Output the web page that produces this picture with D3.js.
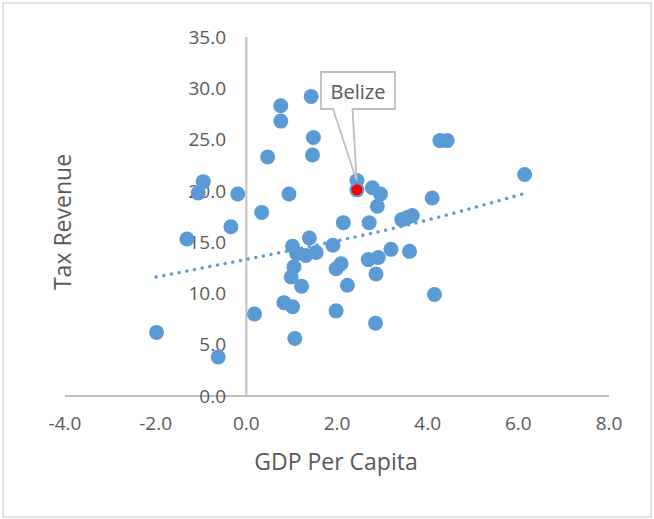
<!DOCTYPE html>
<html>
<head>
<meta charset="utf-8">
<script src="https://cdn.jsdelivr.net/npm/d3@7"></script>
<style>
body { margin: 0; background: #fff; }
text { font-family: "Open Sans", sans-serif; fill: #595959; }
</style>
</head>
<body>
<svg id="chart"></svg>
<script>
// data
var gdp = [-0.95, -1.06, -0.19, 0.76, 0.76, 0.47, 1.43, 1.48, 1.46, 0.94,
	0.34, 2.44, 2.44, 2.78, 2.96, 2.89, -0.34, -1.31, 1.02, 1.39,
	1.11, 1.31, 1.54, 1.91, 2.14, 2.71, 3.43, 3.55, 3.66, 3.19,
	3.60, 1.05, 0.99, 1.22, 1.98, 2.09, 2.69, 2.91, 2.86, 2.23,
	0.83, 1.02, 1.98, 0.18, 2.85, 1.07, -1.98, -0.62, 4.27, 4.43,
	6.14, 4.10, 4.15]
var tax = [20.9, 19.8, 19.7, 28.3, 26.8, 23.3, 29.2, 25.2, 23.5, 19.7,
	17.9, 21.0, 20.1, 20.3, 19.7, 18.5, 16.5, 15.3, 14.6, 15.4,
	13.9, 13.7, 14.0, 14.7, 16.9, 16.9, 17.2, 17.4, 17.6, 14.3,
	14.1, 12.6, 11.6, 10.7, 12.4, 12.9, 13.3, 13.5, 11.9, 10.8,
	9.1, 8.7, 8.3, 8.0, 7.1, 5.6, 6.2, 3.8, 24.9, 24.9,
	21.6, 19.3, 9.9]
var highlight = { name: "Belize", gdp: 2.44, tax: 20.1 }
// trendline (exponential in Excel), points read along it
var trendX = [-1.99, -0.07, 2.16, 3.35, 6.1]
var trendY = [11.6, 13.26, 15.28, 16.45, 19.7]
var xTicks = [-4, -2, 0, 2, 4, 6, 8]
var yTicks = [0, 5, 10, 15, 20, 25, 30, 35]

var width = 654
var height = 519
var blue = "#5b9bd5"
var axisGrey = "#bfbfbf"
// excel style labels, plain hyphen for negatives
var fmt = d => d.toFixed(1)

var svg = d3.select("#chart")
	.attr("width", width)
	.attr("height", height)

// chart border
svg.append("rect")
	.attr("x", 3)
	.attr("y", 3)
	.attr("width", 648)
	.attr("height", 514)
	.attr("fill", "#fff")
	.attr("stroke", "#d9d9d9")
	.attr("stroke-width", 1.5)

var x = d3.scaleLinear().domain([-4, 8]).range([65, 609])
var y = d3.scaleLinear().domain([0, 35]).range([396, 37])

// axis lines cross at 0,0
svg.append("line")
	.attr("x1", x(-4)).attr("x2", x(8))
	.attr("y1", y(0)).attr("y2", y(0))
	.attr("stroke", axisGrey).attr("stroke-width", 2)
svg.append("line")
	.attr("x1", x(0)).attr("x2", x(0))
	.attr("y1", y(0)).attr("y2", y(35))
	.attr("stroke", axisGrey).attr("stroke-width", 2)

// tick labels
svg.append("g").selectAll("text").data(xTicks).enter().append("text")
	.attr("x", d => x(d))
	.attr("y", y(0) + 34)
	.attr("text-anchor", "middle")
	.attr("font-size", "19px")
	.text(fmt)
svg.append("g").selectAll("text").data(yTicks).enter().append("text")
	.attr("x", 226)
	.attr("y", d => y(d))
	.attr("dy", "0.35em")
	.attr("text-anchor", "end")
	.attr("font-size", "19px")
	.text(fmt)

// axis titles
svg.append("text")
	.attr("x", 336)
	.attr("y", 470)
	.attr("text-anchor", "middle")
	.attr("font-size", "23px")
	.text("GDP Per Capita")
svg.append("text")
	.attr("transform", "translate(71,222) rotate(-90)")
	.attr("text-anchor", "middle")
	.attr("font-size", "23px")
	.text("Tax Revenue")

// trendline
var trend = d3.line()
	.x((d, i) => x(trendX[i]))
	.y(d => y(d))
	.curve(d3.curveMonotoneX)
svg.append("path")
	.attr("d", trend(trendY))
	.attr("fill", "none")
	.attr("stroke", blue)
	.attr("stroke-width", 3.4)
	.attr("stroke-linecap", "round")
	.attr("stroke-dasharray", "0.01 7.8")

// points
svg.append("g").selectAll("circle").data(gdp).enter().append("circle")
	.attr("cx", d => x(d))
	.attr("cy", (d, i) => y(tax[i]))
	.attr("r", 7.5)
	.attr("fill", blue)

svg.append("circle")
	.attr("cx", x(highlight.gdp))
	.attr("cy", y(highlight.tax))
	.attr("r", 5.5)
	.attr("fill", "#ff0000")

// callout for Belize
var px = x(highlight.gdp)
var py = y(highlight.tax)
var bx0 = 321, bx1 = 395, by0 = 72, by1 = 109
svg.append("path")
	.attr("d", "M" + bx0 + "," + by0 + "H" + bx1 + "V" + by1 + "H352.5"
		+ "L" + (px - 0.3) + "," + (py - 9) + "L333," + by1 + "H" + bx0 + "Z")
	.attr("fill", "#fff")
	.attr("stroke", axisGrey)
	.attr("stroke-width", 1.8)
	.attr("stroke-linejoin", "miter")
svg.append("text")
	.attr("x", (bx0 + bx1) / 2)
	.attr("y", 99)
	.attr("text-anchor", "middle")
	.attr("font-size", "20px")
	.text(highlight.name)
</script>
</body>
</html>
